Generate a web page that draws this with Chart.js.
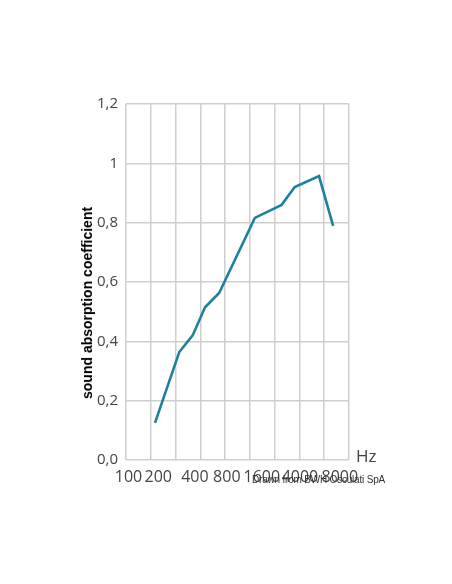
<!DOCTYPE html>
<html><head><meta charset="utf-8">
<script src="https://cdn.jsdelivr.net/npm/chart.js@4/dist/chart.umd.min.js"></script>
<style>
html,body{margin:0;background:#fff;}
#wrap{position:relative;width:452px;height:584px;}
#hz{position:absolute;left:356px;top:444px;font:17px "Open Sans",sans-serif;color:#444;}
#credit{position:absolute;left:252px;top:474px;font:10px "Liberation Sans",sans-serif;color:#333;letter-spacing:-0.2px;}
#ytitle{position:absolute;left:87px;top:303px;transform:translate(-50%,-50%) rotate(-90deg);white-space:nowrap;
  font:bold 14px "Liberation Sans",sans-serif;color:#000;}
</style></head>
<body><div id="wrap"><canvas id="c" width="452" height="584"></canvas>
<div id="hz">Hz</div><div id="credit">Drawn from BWH Osculati SpA</div>
<div id="ytitle">sound absorption coefficient</div></div>
<script>
'use strict';
// position of each point along the 9-column grid, and absorption values
const xs = [1.17, 2.15, 2.69, 3.19, 3.76, 5.2, 6.28, 6.81, 7.79, 8.36];
const ys = [0.125, 0.364, 0.42, 0.515, 0.563, 0.816, 0.86, 0.92, 0.957, 0.789];
const freqLabels = ['100', '200', '400', '800', '1600', '4000', '8000'];
const freqPos = [0.1, 1.3, 2.78, 4.07, 5.48, 7.02, 8.63];

const fmtY = (v) => (Math.abs(v - 1) < 1e-9 ? '1' : v.toFixed(1).replace('.', ','));

new Chart(document.getElementById('c'), {
  type: 'line',
  data: { datasets: [{
    data: xs.map((x, i) => ({ x, y: ys[i] })),
    borderColor: '#207f9b', borderWidth: 2.6, pointRadius: 0, tension: 0, fill: false,
  }] },
  options: {
    responsive: false, animation: false,
    layout: { padding: { left: 76, top: 104, right: 103, bottom: 100 } },
    plugins: { legend: { display: false }, tooltip: { enabled: false } },
    scales: {
      x: {
        type: 'linear', min: 0, max: 9, position: 'bottom',
        ticks: { display: false, stepSize: 1 },
        grid: { color: '#cfcfcf', lineWidth: 1.5, drawTicks: false },
        border: { display: false },
        afterFit: (s) => { s.height = 0; },
      },
      x2: {
        type: 'linear', min: 0, max: 9, position: 'bottom',
        grid: { display: false }, border: { display: false },
        afterBuildTicks: (s) => { s.ticks = freqPos.map((v) => ({ value: v })); },
        ticks: {
          autoSkip: false, maxRotation: 0, padding: 0,
          color: '#444', font: { family: 'Open Sans', size: 16 },
          callback: (v, i) => freqLabels[i],
        },
        afterFit: (s) => { s.height = 24; },
      },
      y: {
        min: 0, max: 1.2,
        ticks: { stepSize: 0.2, padding: 8, color: '#444', font: { family: 'Open Sans', size: 15 }, callback: fmtY },
        grid: { color: '#cfcfcf', lineWidth: 1.5, drawTicks: false },
        border: { display: false },
        afterFit: (s) => { s.width = 50; },
      },
    },
  },
});
</script></body></html>
